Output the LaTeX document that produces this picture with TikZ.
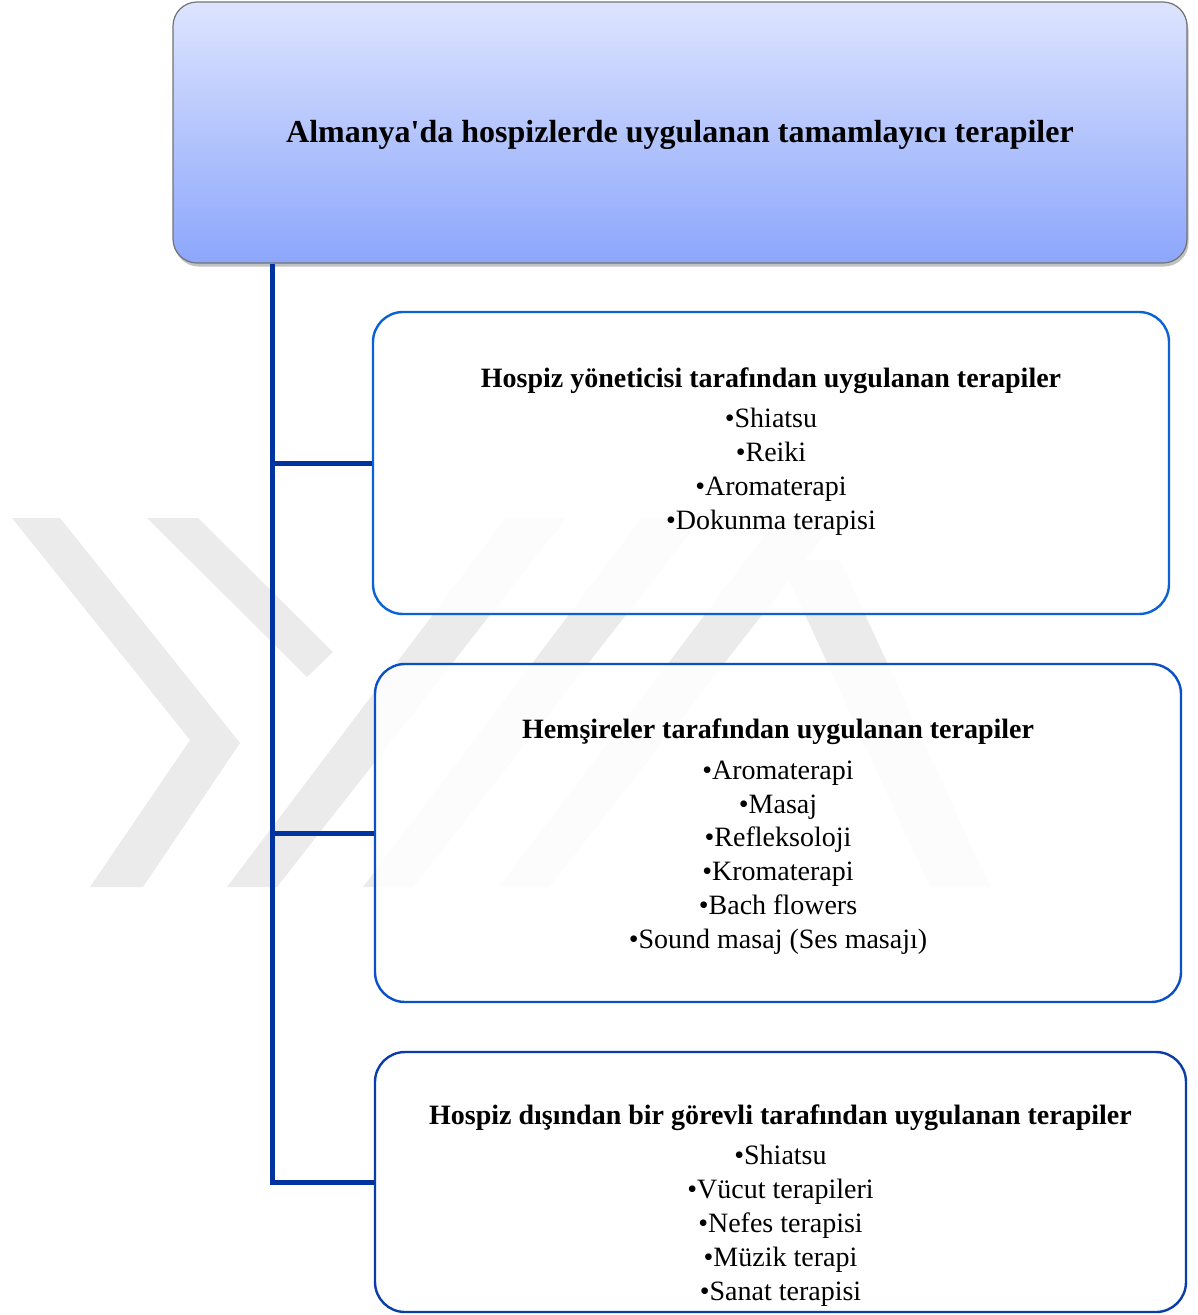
\documentclass[tikz,border=0pt]{standalone}
\usepackage{fontspec}
\setmainfont{Liberation Serif}
\usetikzlibrary{shadows}

\definecolor{trunk}{HTML}{0033A0}
\definecolor{edgeA}{HTML}{0B62D6}
\definecolor{edgeB}{HTML}{0A50C6}
\definecolor{edgeC}{HTML}{0A3DA8}
\definecolor{headTop}{HTML}{DDE4FE}
\definecolor{headBot}{HTML}{8CA6FB}
\definecolor{mark}{HTML}{EBEBEB}

\tikzset{
  wm/.style={fill=mark},
  headbox/.style={draw=gray!90!black, line width=1.2pt, rounded corners=24pt,
    top color=headTop, bottom color=headBot,
    drop shadow={shadow xshift=1.5pt, shadow yshift=-3.5pt, opacity=0.35, fill=black!70},
    inner sep=0pt},
  listbox/.style={line width=2.4pt, rounded corners=30pt, fill=white, fill opacity=0.85,
    inner sep=0pt},
  conn/.style={draw=trunk, line width=5pt},
  titletext/.style={font=\fontsize{32}{38}\selectfont\bfseries, anchor=base, inner sep=0pt},
  hdtext/.style={font=\fontsize{28}{34}\selectfont\bfseries, anchor=base, inner sep=0pt},
  itemtext/.style={font=\fontsize{28}{34}\selectfont, anchor=base, inner sep=0pt},
}

\begin{document}
\begin{tikzpicture}[x=1pt, y=-1pt]
\useasboundingbox (0,0) rectangle (1198,1315);

% faint logo pattern in the background
\fill[wm] (12,518)--(60,518)--(240,743)--(143,887)--(90,887)--(190,740)--cycle;
\fill[wm] (147,518)--(198,518)--(333,652)--(307,677)--cycle;
\fill[wm] (227,887)--(277,887)--(566,518)--(506,518)--cycle;
\fill[wm] (363,887)--(413,887)--(702,518)--(642,518)--cycle;
\fill[wm] (499,887)--(549,887)--(838,518)--(778,518)--cycle;
\fill[wm] (780,560)--(840,560)--(990,887)--(930,887)--cycle;

% heading box
\node[headbox, minimum width=1014pt, minimum height=261pt] (top) at (680,132.5) {};
\node[titletext] (title) at (680,142) {Almanya\textquotesingle da hospizlerde uygulanan tamamlayıcı terapiler};

% group boxes
\node[listbox, draw=edgeA, minimum width=796pt, minimum height=302pt] (b1) at (771,463) {};
\node[listbox, draw=edgeB, minimum width=806pt, minimum height=338pt] (b2) at (778,833) {};
\node[listbox, draw=edgeC, minimum width=811pt, minimum height=260pt] (b3) at (780.5,1182) {};

% trunk and branches
\coordinate (root) at ([xshift=100pt]top.south west);
\draw[conn] (root) |- (b1.west);
\draw[conn] (root) |- (b2.west);
\draw[conn] (root) |- (b3.west);

% group 1
\node[hdtext] (h1) at (771,387) {Hospiz yöneticisi tarafından uygulanan terapiler};
\node[itemtext] (i11) at (771,427) {•Shiatsu};
\node[itemtext] (i12) at (771,461) {•Reiki};
\node[itemtext] (i13) at (771,495) {•Aromaterapi};
\node[itemtext] (i14) at (771,529) {•Dokunma terapisi};

% group 2
\node[hdtext] (h2) at (778,738) {Hemşireler tarafından uygulanan terapiler};
\node[itemtext] (i21) at (778,779) {•Aromaterapi};
\node[itemtext] (i22) at (778,813) {•Masaj};
\node[itemtext] (i23) at (778,846) {•Refleksoloji};
\node[itemtext] (i24) at (778,880) {•Kromaterapi};
\node[itemtext] (i25) at (778,914) {•Bach flowers};
\node[itemtext] (i26) at (778,948) {•Sound masaj (Ses masajı)};

% group 3
\node[hdtext] (h3) at (780.5,1124) {Hospiz dışından bir görevli tarafından uygulanan terapiler};
\node[itemtext] (i31) at (780.5,1164) {•Shiatsu};
\node[itemtext] (i32) at (780.5,1198) {•Vücut terapileri};
\node[itemtext] (i33) at (780.5,1232) {•Nefes terapisi};
\node[itemtext] (i34) at (780.5,1266) {•Müzik terapi};
\node[itemtext] (i35) at (780.5,1300) {•Sanat terapisi};
\end{tikzpicture}
\end{document}
